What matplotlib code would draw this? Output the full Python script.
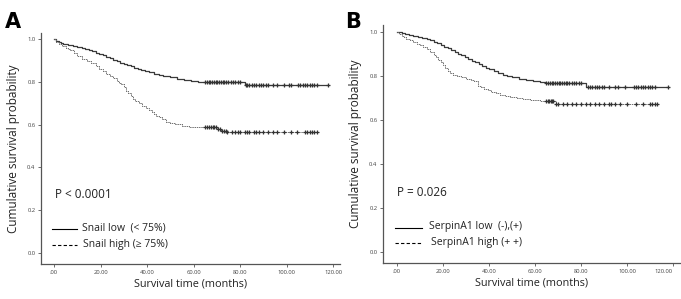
import numpy as np
import matplotlib
matplotlib.use("Agg")
import matplotlib.pyplot as plt
from matplotlib.lines import Line2D

plt.rcParams['font.family'] = ['Open Sans', 'DejaVu Sans']

# Panel A - Snail
a_low_t = [0, 1, 2, 3, 4, 6, 8, 10, 12, 13.5, 15, 16.5, 18, 19.5, 21, 22.5, 24, 25.5, 27, 28.5, 30, 31.5, 33,
           34.5, 36, 37.5, 39, 41, 43, 45, 47, 50, 53, 56, 59, 62, 82]
a_low_s = [1.0, 0.993, 0.987, 0.982, 0.977, 0.972, 0.968, 0.964, 0.96, 0.955, 0.95, 0.944, 0.938, 0.932, 0.925,
           0.918, 0.911, 0.904, 0.897, 0.89, 0.884, 0.878, 0.873, 0.868, 0.863, 0.858, 0.853, 0.847, 0.84,
           0.834, 0.828, 0.822, 0.816, 0.811, 0.806, 0.80, 0.785]
a_low_c = [65, 65.7, 66.5, 67.2, 68, 68.8, 69.5, 70.3, 71, 71.8, 72.5, 73.3, 74, 75, 76, 77, 78, 79, 80,
           82.5, 83, 84, 85, 86, 87, 88, 89, 90, 91, 92, 94, 96, 99, 101, 102, 105, 106, 107, 108, 109, 110,
           111, 112, 113, 118]

a_high_t = [0, 1, 2, 3.5, 5, 6, 7, 8.5, 10, 12, 14, 16, 18, 19.5, 21, 22.5, 24, 25.5, 27, 28, 29, 30, 31, 32,
            33, 34, 35, 36.5, 38, 39.5, 41, 42, 43, 44, 45, 46.5, 48, 50, 52, 55, 58, 62, 70, 72, 74]
a_high_s = [1.0, 0.99, 0.98, 0.97, 0.962, 0.955, 0.948, 0.935, 0.92, 0.91, 0.9, 0.888, 0.875, 0.862, 0.85,
            0.84, 0.83, 0.82, 0.805, 0.797, 0.79, 0.775, 0.76, 0.748, 0.735, 0.722, 0.71, 0.7, 0.69, 0.68,
            0.67, 0.66, 0.65, 0.642, 0.635, 0.625, 0.615, 0.608, 0.602, 0.596, 0.591, 0.587, 0.578, 0.572,
            0.565]
a_high_c = [65, 65.8, 66.6, 67.4, 68.2, 69, 69.8, 70.6, 71.4, 72.2, 73, 73.8, 74.6, 76.5, 78, 79, 80, 82,
            83, 84, 86, 87, 88, 90, 92, 94, 96, 99, 102, 104.5, 108, 109, 110, 111, 112, 113]

# Panel B - SerpinA1
b_low_t = [0, 1, 2, 3.5, 5, 7, 9, 11, 13, 14.5, 16, 17.5, 19, 20.5, 22, 23.5, 25, 26.5, 28, 29.5, 31, 32.5,
           34, 35.5, 37, 38.5, 40, 42, 44, 46, 48, 50, 53, 56, 59, 62, 65, 82]
b_low_s = [1.0, 0.997, 0.993, 0.99, 0.986, 0.981, 0.976, 0.971, 0.966, 0.96, 0.954, 0.947, 0.94, 0.932,
           0.924, 0.916, 0.908, 0.9, 0.892, 0.884, 0.876, 0.868, 0.86, 0.852, 0.844, 0.836, 0.828, 0.82,
           0.812, 0.805, 0.799, 0.793, 0.787, 0.781, 0.776, 0.771, 0.766, 0.75]
b_low_c = [65, 65.7, 66.5, 67.2, 68, 68.8, 69.5, 70.3, 71, 71.8, 72.5, 73.3, 74, 75, 76, 77, 78, 79, 80,
           83, 84, 85, 86, 87, 88, 89, 90, 92, 95, 96, 99, 103, 104, 105, 106, 107, 108, 109, 110, 111,
           112, 118]

b_high_t = [0, 1, 2, 3, 4, 5.5, 7, 8.5, 10, 11.5, 13, 14.5, 16, 17, 18, 19, 20, 21, 22, 23, 24.5, 26, 28,
            30, 32, 33.5, 35, 36.5, 38, 39.5, 41, 43, 45, 47, 49, 52, 55, 58, 62, 69]
b_high_s = [1.0, 0.99, 0.982, 0.975, 0.968, 0.96, 0.952, 0.945, 0.938, 0.93, 0.92, 0.908, 0.895, 0.885,
            0.873, 0.86, 0.848, 0.835, 0.823, 0.812, 0.803, 0.797, 0.792, 0.787, 0.782, 0.775, 0.755,
            0.748, 0.741, 0.734, 0.727, 0.72, 0.714, 0.708, 0.703, 0.698, 0.693, 0.689, 0.685, 0.672]
b_high_c = [65, 65.6, 66.2, 66.8, 67.4, 68, 69, 70, 72, 74, 76, 78, 80, 82, 84, 86, 88, 90, 92, 93, 95,
            97, 100, 104, 107, 110, 111, 112, 113]

xticks = [0, 20, 40, 60, 80, 100, 120]
xlabels = ['.00', '20.00', '40.00', '60.00', '80.00', '100.00', '120.00']
yticks = [0.0, 0.2, 0.4, 0.6, 0.8, 1.0]

solid_col = '#3a3a3a'
dash_col = '#707070'


def surv_at(times, surv, c):
    idx = np.searchsorted(times, c, side='right') - 1
    return np.array(surv)[idx]


def km(ax, t, s, cens, ls, col, lw):
    tmax = max(cens)
    tt = list(t) + [tmax]
    ss = list(s) + [s[-1]]
    ax.step(tt, ss, where='post', color=col, linestyle=ls, linewidth=lw)
    ax.plot(cens, surv_at(t, s, cens), linestyle='none', marker='+',
            markersize=3.2, markeredgewidth=0.9, color='#333333')


def style(ax, xlim, ylim):
    ax.set_xlim(*xlim)
    ax.set_ylim(*ylim)
    for sp in ['top', 'right']:
        ax.spines[sp].set_visible(False)
    for sp in ['left', 'bottom']:
        ax.spines[sp].set_color('#555555')
        ax.spines[sp].set_linewidth(0.9)
    ax.set_xticks(xticks)
    ax.set_xticklabels(xlabels)
    ax.set_yticks(yticks)
    ax.set_yticklabels(['%.1f' % v for v in yticks])
    ax.tick_params(labelsize=4.2, length=2, width=0.6, color='#555555',
                   labelcolor='#444444', pad=2)
    ax.set_xlabel('Survival time (months)', fontsize=7.8, color='#222222', labelpad=3)
    ax.set_ylabel('Cumulative survival probability', fontsize=8.5, color='#222222', labelpad=5)


fig = plt.figure(figsize=(6.81, 2.99), dpi=100)
axA = fig.add_axes([41/681, 1-264/299, 299/681, 231/299])
axB = fig.add_axes([383/681, 1-263/299, 298/681, 238/299])

km(axA, a_low_t, a_low_s, a_low_c, '-', solid_col, 0.9)
km(axA, a_high_t, a_high_s, a_high_c, (0, (1.5, 0.8)), dash_col, 0.7)
style(axA, (-5.6, 123), (-0.053, 1.03))

km(axB, b_low_t, b_low_s, b_low_c, '-', solid_col, 0.9)
km(axB, b_high_t, b_high_s, b_high_c, (0, (1.5, 0.8)), dash_col, 0.7)
style(axB, (-6.1, 123.5), (-0.051, 1.03))
axB.get_xticklabels()[-1].set_horizontalalignment('right')
axB.get_xticklabels()[-1].set_x(122.8)

fig.text(5/681, 1-22/299, 'A', fontsize=15, fontweight='bold', family='DejaVu Sans', va='center')
fig.text(345/681, 1-22/299, 'B', fontsize=15, fontweight='bold', family='DejaVu Sans', va='center')

fig.text(55/681, 1-195/299, 'P < 0.0001', fontsize=8.5, va='center', color='#222222')
fig.text(397/681, 1-193/299, 'P = 0.026', fontsize=8.5, va='center', color='#222222')

# legend samples
for (x0, x1, y, ls, txt, tx) in [
        (52, 77, 229, '-', 'Snail low  (< 75%)', 82),
        (52, 77, 245, (0, (3, 2)), 'Snail high (\u2265 75%)', 83),
        (395, 422, 228, '-', 'SerpinA1 low  (-),(+)', 429),
        (395, 422, 243, (0, (3, 2)), 'SerpinA1 high (+ +)', 431)]:
    fig.add_artist(Line2D([x0/681, x1/681], [1-y/299, 1-y/299], transform=fig.transFigure,
                          color='black', linestyle=ls, linewidth=0.8))
    fig.text(tx/681, 1-(y-1)/299, txt, fontsize=7.5, va='center', color='#222222')

fig.savefig('out.png', dpi=100)
